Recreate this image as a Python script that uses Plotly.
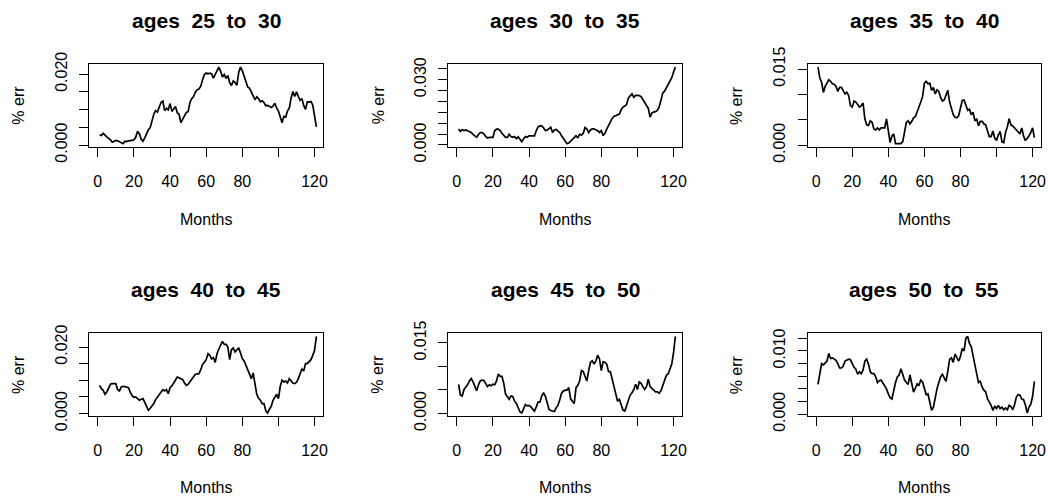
import plotly.graph_objects as go

# ---------------- data ----------------
months = list(range(1, 122))

titles = ["ages  25  to  30", "ages  30  to  35", "ages  35  to  40",
          "ages  40  to  45", "ages  45  to  50", "ages  50  to  55"]

err_25_30 = [0.0029, 0.0027, 0.0033, 0.0027, 0.0023, 0.0019, 0.0015, 0.0008, 0.0010, 0.0013,
             0.0012, 0.0010, 0.0007, 0.0004, 0.0011, 0.0010, 0.0012, 0.0012, 0.0013, 0.0015,
             0.0022, 0.0039, 0.0032, 0.0017, 0.0011, 0.0020, 0.0033, 0.0043, 0.0049, 0.0067,
             0.0087, 0.0097, 0.0093, 0.0107, 0.0120, 0.0124, 0.0097, 0.0104, 0.0099, 0.0117,
             0.0095, 0.0102, 0.0109, 0.0091, 0.0087, 0.0063, 0.0072, 0.0080, 0.0092, 0.0094,
             0.0120, 0.0131, 0.0137, 0.0149, 0.0156, 0.0158, 0.0166, 0.0184, 0.0199, 0.0203,
             0.0201, 0.0203, 0.0201, 0.0189, 0.0201, 0.0209, 0.0220, 0.0208, 0.0192, 0.0199,
             0.0188, 0.0196, 0.0176, 0.0168, 0.0181, 0.0176, 0.0169, 0.0205, 0.0220, 0.0210,
             0.0195, 0.0178, 0.0164, 0.0160, 0.0149, 0.0137, 0.0128, 0.0136, 0.0131, 0.0122,
             0.0125, 0.0120, 0.0111, 0.0112, 0.0110, 0.0106, 0.0110, 0.0118, 0.0104, 0.0096,
             0.0080, 0.0063, 0.0081, 0.0079, 0.0096, 0.0104, 0.0133, 0.0151, 0.0137, 0.0150,
             0.0137, 0.0126, 0.0131, 0.0111, 0.0101, 0.0122, 0.0121, 0.0123, 0.0113, 0.0085,
             0.0051]

err_30_35 = [0.0073, 0.0062, 0.0071, 0.0066, 0.0069, 0.0066, 0.0062, 0.0057, 0.0049, 0.0042,
             0.0035, 0.0048, 0.0057, 0.0057, 0.0051, 0.0039, 0.0032, 0.0035, 0.0035, 0.0035,
             0.0065, 0.0073, 0.0073, 0.0066, 0.0054, 0.0042, 0.0035, 0.0035, 0.0049, 0.0039,
             0.0035, 0.0039, 0.0029, 0.0037, 0.0028, 0.0015, 0.0029, 0.0039, 0.0035, 0.0042,
             0.0042, 0.0042, 0.0042, 0.0065, 0.0083, 0.0088, 0.0088, 0.0079, 0.0066, 0.0068,
             0.0076, 0.0082, 0.0057, 0.0069, 0.0071, 0.0062, 0.0057, 0.0042, 0.0029, 0.0014,
             0.0006, 0.0009, 0.0017, 0.0026, 0.0035, 0.0042, 0.0034, 0.0049, 0.0045, 0.0054,
             0.0080, 0.0073, 0.0057, 0.0069, 0.0074, 0.0074, 0.0069, 0.0066, 0.0057, 0.0066,
             0.0043, 0.0054, 0.0073, 0.0091, 0.0108, 0.0122, 0.0131, 0.0136, 0.0137, 0.0142,
             0.0162, 0.0174, 0.0179, 0.0187, 0.0216, 0.0228, 0.0235, 0.0219, 0.0228, 0.0228,
             0.0227, 0.0222, 0.0208, 0.0190, 0.0181, 0.0168, 0.0128, 0.0147, 0.0151, 0.0153,
             0.0159, 0.0174, 0.0205, 0.0239, 0.0247, 0.0262, 0.0281, 0.0289, 0.0309, 0.0335,
             0.0358]

err_35_40 = [0.0154, 0.0133, 0.0124, 0.0104, 0.0116, 0.0122, 0.0129, 0.0126, 0.0121, 0.0120,
             0.0116, 0.0106, 0.0114, 0.0114, 0.0106, 0.0101, 0.0104, 0.0098, 0.0078, 0.0075,
             0.0087, 0.0085, 0.0080, 0.0075, 0.0078, 0.0083, 0.0052, 0.0040, 0.0039, 0.0048,
             0.0045, 0.0032, 0.0030, 0.0034, 0.0030, 0.0034, 0.0034, 0.0034, 0.0052, 0.0032,
             0.0005, 0.0018, 0.0022, 0.0003, 0.0003, 0.0003, 0.0003, 0.0007, 0.0028, 0.0045,
             0.0048, 0.0042, 0.0047, 0.0054, 0.0056, 0.0065, 0.0077, 0.0085, 0.0096, 0.0122,
             0.0126, 0.0121, 0.0122, 0.0108, 0.0114, 0.0101, 0.0109, 0.0106, 0.0094, 0.0087,
             0.0089, 0.0100, 0.0108, 0.0085, 0.0071, 0.0060, 0.0055, 0.0054, 0.0058, 0.0075,
             0.0088, 0.0089, 0.0078, 0.0069, 0.0071, 0.0060, 0.0065, 0.0048, 0.0052, 0.0038,
             0.0047, 0.0047, 0.0042, 0.0040, 0.0028, 0.0017, 0.0017, 0.0028, 0.0014, 0.0009,
             0.0020, 0.0027, 0.0007, 0.0005, 0.0025, 0.0036, 0.0052, 0.0040, 0.0038, 0.0034,
             0.0032, 0.0028, 0.0022, 0.0034, 0.0018, 0.0009, 0.0013, 0.0018, 0.0025, 0.0034,
             0.0015]

err_40_45 = [0.0085, 0.0075, 0.0070, 0.0058, 0.0065, 0.0077, 0.0088, 0.0090, 0.0089, 0.0090,
             0.0072, 0.0068, 0.0080, 0.0082, 0.0081, 0.0080, 0.0078, 0.0064, 0.0054, 0.0049,
             0.0050, 0.0045, 0.0040, 0.0043, 0.0045, 0.0034, 0.0020, 0.0010, 0.0016, 0.0022,
             0.0030, 0.0042, 0.0050, 0.0058, 0.0066, 0.0072, 0.0068, 0.0072, 0.0060, 0.0078,
             0.0083, 0.0092, 0.0098, 0.0110, 0.0108, 0.0106, 0.0102, 0.0092, 0.0085, 0.0088,
             0.0096, 0.0103, 0.0112, 0.0118, 0.0119, 0.0120, 0.0132, 0.0148, 0.0154, 0.0162,
             0.0180, 0.0175, 0.0164, 0.0168, 0.0154, 0.0180, 0.0194, 0.0205, 0.0217, 0.0208,
             0.0208, 0.0200, 0.0162, 0.0192, 0.0197, 0.0185, 0.0192, 0.0198, 0.0182, 0.0165,
             0.0158, 0.0144, 0.0127, 0.0115, 0.0105, 0.0122, 0.0085, 0.0058, 0.0046, 0.0040,
             0.0030, 0.0030, 0.0008, 0.0002, 0.0013, 0.0022, 0.0040, 0.0050, 0.0058, 0.0045,
             0.0082, 0.0100, 0.0095, 0.0098, 0.0092, 0.0105, 0.0098, 0.0092, 0.0090, 0.0094,
             0.0105, 0.0118, 0.0134, 0.0128, 0.0150, 0.0150, 0.0155, 0.0162, 0.0175, 0.0190,
             0.0232]

err_45_50 = [0.0062, 0.0039, 0.0037, 0.0051, 0.0056, 0.0061, 0.0069, 0.0074, 0.0067, 0.0057,
             0.0048, 0.0061, 0.0069, 0.0071, 0.0070, 0.0064, 0.0057, 0.0061, 0.0059, 0.0062,
             0.0061, 0.0069, 0.0084, 0.0079, 0.0079, 0.0064, 0.0041, 0.0036, 0.0030, 0.0037,
             0.0036, 0.0026, 0.0021, 0.0012, 0.0003, 0.0001, 0.0010, 0.0019, 0.0016, 0.0017,
             0.0014, 0.0009, 0.0005, 0.0014, 0.0024, 0.0024, 0.0037, 0.0044, 0.0037, 0.0023,
             0.0009, 0.0006, 0.0005, 0.0004, 0.0012, 0.0017, 0.0029, 0.0043, 0.0048, 0.0049,
             0.0050, 0.0055, 0.0031, 0.0026, 0.0021, 0.0055, 0.0060, 0.0069, 0.0091, 0.0089,
             0.0080, 0.0069, 0.0091, 0.0109, 0.0112, 0.0105, 0.0112, 0.0124, 0.0116, 0.0091,
             0.0110, 0.0109, 0.0105, 0.0089, 0.0089, 0.0073, 0.0057, 0.0043, 0.0026, 0.0030,
             0.0016, 0.0007, 0.0005, 0.0016, 0.0030, 0.0039, 0.0044, 0.0051, 0.0062, 0.0051,
             0.0067, 0.0064, 0.0057, 0.0051, 0.0057, 0.0073, 0.0057, 0.0053, 0.0048, 0.0046,
             0.0046, 0.0043, 0.0048, 0.0059, 0.0069, 0.0081, 0.0084, 0.0094, 0.0105, 0.0130,
             0.0164]

err_50_55 = [0.0047, 0.0067, 0.0080, 0.0078, 0.0082, 0.0084, 0.0096, 0.0088, 0.0089, 0.0087,
             0.0085, 0.0080, 0.0073, 0.0073, 0.0076, 0.0084, 0.0085, 0.0087, 0.0086, 0.0080,
             0.0074, 0.0071, 0.0063, 0.0067, 0.0064, 0.0070, 0.0084, 0.0087, 0.0079, 0.0067,
             0.0064, 0.0064, 0.0059, 0.0050, 0.0053, 0.0054, 0.0050, 0.0046, 0.0040, 0.0032,
             0.0026, 0.0024, 0.0038, 0.0050, 0.0059, 0.0062, 0.0072, 0.0063, 0.0054, 0.0050,
             0.0047, 0.0062, 0.0046, 0.0035, 0.0041, 0.0048, 0.0046, 0.0054, 0.0051, 0.0040,
             0.0031, 0.0032, 0.0018, 0.0006, 0.0011, 0.0029, 0.0040, 0.0050, 0.0059, 0.0063,
             0.0057, 0.0052, 0.0068, 0.0087, 0.0089, 0.0082, 0.0095, 0.0089, 0.0084, 0.0091,
             0.0104, 0.0100, 0.0120, 0.0123, 0.0112, 0.0107, 0.0095, 0.0078, 0.0064, 0.0050,
             0.0052, 0.0043, 0.0038, 0.0035, 0.0024, 0.0019, 0.0014, 0.0006, 0.0013, 0.0009,
             0.0014, 0.0009, 0.0011, 0.0007, 0.0010, 0.0007, 0.0014, 0.0012, 0.0007, 0.0015,
             0.0027, 0.0031, 0.0030, 0.0024, 0.0023, 0.0015, 0.0002, 0.0011, 0.0016, 0.0028,
             0.0052]

series = [err_25_30, err_30_35, err_35_40, err_40_45, err_45_50, err_50_55]

x_tickvals = [0, 20, 40, 60, 80, 100, 120]
x_ticktext = ["0", "20", "40", "60", "80", "", "120"]

y_tickvals = [
    [0, 0.005, 0.010, 0.015, 0.020],
    [0, 0.005, 0.010, 0.015, 0.020, 0.025, 0.030, 0.035],
    [0, 0.005, 0.010, 0.015],
    [0, 0.005, 0.010, 0.015, 0.020],
    [0, 0.005, 0.010, 0.015],
    [0, 0.002, 0.004, 0.006, 0.008, 0.010, 0.012],
]
y_ticktext = [
    ["0.000", "", "", "", "0.020"],
    ["0.000", "", "", "", "", "", "0.030", ""],
    ["0.000", "", "", "0.015"],
    ["0.000", "", "", "", "0.020"],
    ["0.000", "", "", "0.015"],
    ["0.000", "", "", "", "", "0.010", ""],
]

# ---------------- layout ----------------
W, H = 1048, 497
FONT = "Liberation Sans, Arial, Helvetica, sans-serif"
col_px = [(89.3, 322.7), (448.3, 681.7), (807.7, 1040.7)]
row_px = [(64.0, 146.7), (333.3, 416.0)]
title_y = [20, 289]
months_y = [219, 487]
err_x = [18.3, 378, 736.7]

fig = go.Figure()
annotations = []
layout_axes = {}

for i, vals in enumerate(series):
    r, c = divmod(i, 3)
    n = "" if i == 0 else str(i + 1)
    fig.add_trace(go.Scatter(
        x=months, y=vals, mode="lines",
        line=dict(color="black", width=1.7),
        xaxis="x" + n, yaxis="y" + n, showlegend=False,
        hoverinfo="x+y"))

    lo, hi = min(vals), max(vals)
    pad = 0.04 * (hi - lo)
    x0, x1 = col_px[c]
    ytop, ybot = row_px[r]
    common = dict(showline=True, mirror=True, linecolor="black", linewidth=1.3,
                  ticks="outside", ticklen=9, tickwidth=1.3, tickcolor="black",
                  showgrid=False, zeroline=False, automargin=False,
                  tickfont=dict(family=FONT, size=16, color="black"))
    layout_axes["xaxis" + n] = dict(
        domain=[x0 / W, x1 / W], anchor="y" + n,
        range=[-4.7, 124.5], tickmode="array",
        tickvals=x_tickvals, ticktext=x_ticktext,
        ticklabelstandoff=11, **common)
    layout_axes["yaxis" + n] = dict(
        domain=[1 - ybot / H, 1 - ytop / H], anchor="x" + n,
        range=[lo - pad, hi + pad], tickmode="array",
        tickvals=y_tickvals[i], ticktext=y_ticktext[i],
        tickangle=-90, ticklabelstandoff=6, **common)

    xc = (x0 + x1) / 2 / W
    annotations.append(dict(text="<b>" + titles[i] + "</b>", x=xc, y=1 - title_y[r] / H,
                            xref="paper", yref="paper", showarrow=False,
                            xanchor="center", yanchor="middle",
                            font=dict(family=FONT, size=21, color="black")))
    annotations.append(dict(text="Months", x=xc, y=1 - months_y[r] / H,
                            xref="paper", yref="paper", showarrow=False,
                            xanchor="center", yanchor="middle",
                            font=dict(family=FONT, size=16, color="black")))
    annotations.append(dict(text="% err", x=err_x[c] / W, y=1 - (ytop + ybot) / 2 / H,
                            xref="paper", yref="paper", showarrow=False, textangle=-90,
                            xanchor="center", yanchor="middle",
                            font=dict(family=FONT, size=16, color="black")))

fig.update_layout(
    width=W, height=H,
    margin=dict(l=0, r=0, t=0, b=0, pad=0, autoexpand=False),
    paper_bgcolor="white", plot_bgcolor="white",
    annotations=annotations,
    **layout_axes)

fig.write_html("out.html", config={"displayModeBar": False})
